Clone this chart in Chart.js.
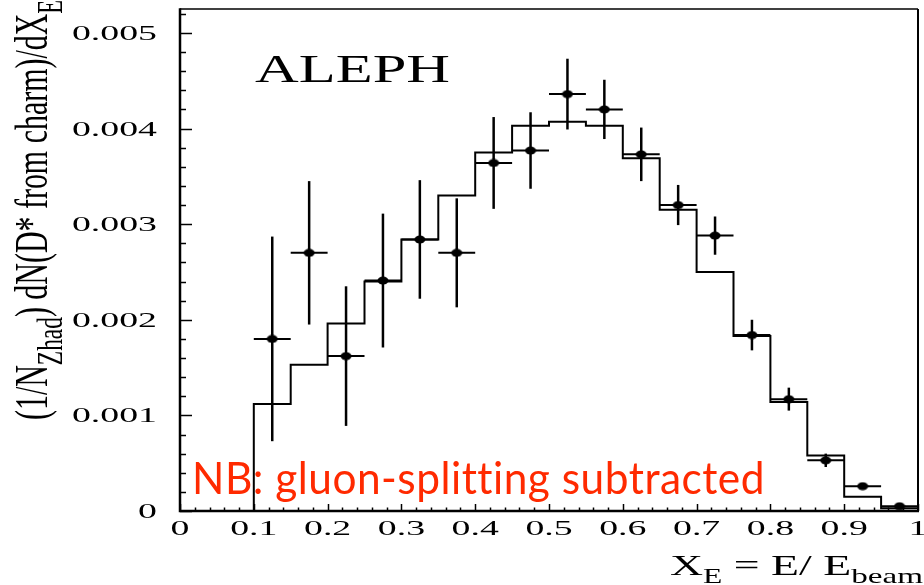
<!DOCTYPE html>
<html><head><meta charset="utf-8">
<script src="https://cdn.jsdelivr.net/npm/chart.js@4/dist/chart.umd.min.js"></script>
<style>html,body{margin:0;padding:0;background:#fff;}canvas{display:block}</style>
</head><body>
<canvas id="c" width="924" height="585"></canvas>
<script>
// ---- data ----
const binEdges = [0.10,0.15,0.20,0.25,0.30,0.35,0.40,0.45,0.50,0.55,0.60,0.65,0.70,0.75,0.80,0.85,0.90,0.95,1.00];
const mcValues = [0.00112,0.00153,0.00196,0.00240,0.00284,0.00330,0.00375,0.00403,0.00407,0.00403,0.00369,0.00315,0.00250,0.00183,0.00114,0.00058,0.00015,0.00003];
const xCenters = [0.125,0.175,0.225,0.275,0.325,0.375,0.425,0.475,0.525,0.575,0.625,0.675,0.725,0.775,0.825,0.875,0.925,0.975];
const dataValues = [0.00180,0.00270,0.00162,0.00241,0.00284,0.00270,0.00364,0.00377,0.00436,0.00420,0.00373,0.00320,0.00288,0.00184,0.00117,0.00053,0.00026,0.00005];
const dataErrors = [0.00107,0.00075,0.00073,0.00070,0.00062,0.00057,0.00048,0.00040,0.00037,0.00031,0.00028,0.00021,0.00020,0.00016,0.00012,0.00007,0.00003,0.00002];
const xTickValues = [0,0.1,0.2,0.3,0.4,0.5,0.6,0.7,0.8,0.9,1];
const xTickLabels = ['0','0.1','0.2','0.3','0.4','0.5','0.6','0.7','0.8','0.9','1'];
const yTickValues = [0,0.001,0.002,0.003,0.004,0.005];
const yTickLabels = ['0','0.001','0.002','0.003','0.004','0.005'];

// histogram points built from bin edges
const histPoints = [{x: binEdges[0], y: 0}];
mcValues.forEach((v,i)=>histPoints.push({x: binEdges[i], y: v}));
histPoints.push({x: binEdges[binEdges.length-1], y: mcValues[mcValues.length-1]});
const dataPoints = xCenters.map((x,i)=>({x, y: dataValues[i]}));

// marker: slightly wide ellipse
const marker = document.createElement('canvas');
marker.width = 12; marker.height = 9;
(function(){const m = marker.getContext('2d'); m.fillStyle='#000'; m.beginPath(); m.ellipse(6,4.5,5.5,4,0,0,Math.PI*2); m.fill();})();

const SERIF = '"Liberation Serif", "Times New Roman", serif';

function drawParts(ctx, parts, o){
  ctx.save();
  if (o.ls) { try { ctx.letterSpacing = o.ls; } catch(e){} }
  let w = 0;
  for (const p of parts){ ctx.font = (o.weight ? o.weight + ' ' : '') + p.s + 'px ' + (o.family||SERIF); p.w = ctx.measureText(p.t).width; w += p.w; }
  const sx = o.width ? o.width / w : (o.sx || 1);
  ctx.translate(o.x, o.y);
  if (o.rotate) ctx.rotate(-Math.PI/2);
  ctx.scale(sx, o.across || 1);
  let cx = o.align === 'right' ? -w : (o.align === 'center' ? -w/2 : 0);
  ctx.fillStyle = o.color || '#000';
  ctx.textBaseline = 'alphabetic';
  ctx.textAlign = 'left';
  for (const p of parts){ ctx.font = (o.weight ? o.weight + ' ' : '') + p.s + 'px ' + (o.family||SERIF); ctx.fillText(p.t, cx, p.dy || 0); cx += p.w; }
  ctx.restore();
}

const decor = {
  id: 'decor',
  beforeDatasetsDraw(chart){
    const ctx = chart.ctx, xs = chart.scales.x, ys = chart.scales.y;
    ctx.save();
    ctx.strokeStyle = '#000';
    ctx.lineCap = 'butt';
    xCenters.forEach((xc,i)=>{
      const half = (binEdges[i+1]-binEdges[i])/2;
      const py = ys.getPixelForValue(dataValues[i]);
      ctx.lineWidth = 2;
      ctx.beginPath();
      ctx.moveTo(xs.getPixelForValue(xc-half), py);
      ctx.lineTo(xs.getPixelForValue(xc+half), py);
      ctx.stroke();
      ctx.lineWidth = 2.5;
      const px = xs.getPixelForValue(xc);
      ctx.beginPath();
      ctx.moveTo(px, ys.getPixelForValue(dataValues[i]-dataErrors[i]));
      ctx.lineTo(px, ys.getPixelForValue(dataValues[i]+dataErrors[i]));
      ctx.stroke();
    });
    ctx.restore();
  },
  afterDraw(chart){
    const ctx = chart.ctx, xs = chart.scales.x, ys = chart.scales.y, a = chart.chartArea;
    ctx.save();
    ctx.strokeStyle = '#000';
    // frame
    ctx.lineWidth = 1.5;
    ctx.beginPath(); ctx.moveTo(a.left, a.top); ctx.lineTo(a.right, a.top); ctx.stroke();
    ctx.lineWidth = 2;
    ctx.beginPath(); ctx.moveTo(a.right, a.top); ctx.lineTo(a.right, a.bottom); ctx.stroke();
    ctx.lineWidth = 2.5;
    ctx.beginPath(); ctx.moveTo(a.left, a.top-0.75); ctx.lineTo(a.left, a.bottom); ctx.lineTo(a.right+1, a.bottom); ctx.stroke();
    // ticks
    ctx.lineWidth = 1.5;
    for (let k=0;k<=26;k++){
      const v = k*0.0002; if (v > ys.max) break;
      const py = Math.round(ys.getPixelForValue(v))+0.5;
      const len = k%5===0 ? 12 : 6;
      ctx.beginPath(); ctx.moveTo(a.left, py); ctx.lineTo(a.left+len, py); ctx.stroke();
    }
    for (let k=0;k<=50;k++){
      const v = k*0.02;
      const px = Math.round(xs.getPixelForValue(v))+0.5;
      const len = k%5===0 ? 7 : 3.5;
      ctx.beginPath(); ctx.moveTo(px, a.bottom); ctx.lineTo(px, a.bottom-len); ctx.stroke();
    }
    ctx.restore();
    // tick labels
    yTickValues.forEach((v,i)=>{
      drawParts(ctx, [{t: yTickLabels[i], s: 21}], {x: 157, y: ys.getPixelForValue(v)+7, sx: 1.8, align: 'right'});
    });
    xTickValues.forEach((v,i)=>{
      drawParts(ctx, [{t: xTickLabels[i], s: 21}], {x: xs.getPixelForValue(v), y: 535, sx: 1.8, align: 'center'});
    });
    // ALEPH
    drawParts(ctx, [{t: 'ALEPH', s: 41}], {x: 255, y: 82, width: 195});
    // x title
    drawParts(ctx, [{t:'X', s:29},{t:'E', s:20, dy:8},{t:' = E/ E', s:29},{t:'beam', s:21, dy:8}], {x: 670, y: 575, width: 253});
    // y title (rotated)
    drawParts(ctx, [{t:'(1/N', s:32},{t:'Zhad', s:25, dy:10},{t:') dN(D* from charm)/dX', s:32},{t:'E', s:24, dy:10}],
      {x: 47, y: 420, width: 420, rotate: true, across: 1.45});
    // red note
    drawParts(ctx, [{t:'NB: gluon-splitting subtracted', s:44}], {x: 192, y: 494, width: 573, ls: '0.5px', family: 'Lato, "Open Sans", sans-serif', color: '#ff2a00'});
  }
};

new Chart(document.getElementById('c'), {
  data: {
    datasets: [
      { type: 'line', data: histPoints, stepped: true, borderColor: '#000', borderWidth: 2, pointRadius: 0, fill: false, tension: 0 },
      { type: 'scatter', data: dataPoints, pointStyle: marker, pointRadius: 5, backgroundColor: '#000', borderColor: '#000' }
    ]
  },
  options: {
    responsive: false,
    animation: false,
    events: [],
    layout: { padding: { top: 9, right: 2, left: 0, bottom: 0 } },
    plugins: { legend: { display: false }, tooltip: { enabled: false } },
    scales: {
      x: { type: 'linear', min: 0, max: 1, ticks: { display: false }, grid: { display: false }, border: { display: false },
           afterFit(s){ s.height = 74; } },
      y: { type: 'linear', min: 0, max: 0.00525, ticks: { display: false }, grid: { display: false }, border: { display: false },
           afterFit(s){ s.width = 180; } }
    }
  },
  plugins: [decor]
});
</script>
</body></html>
